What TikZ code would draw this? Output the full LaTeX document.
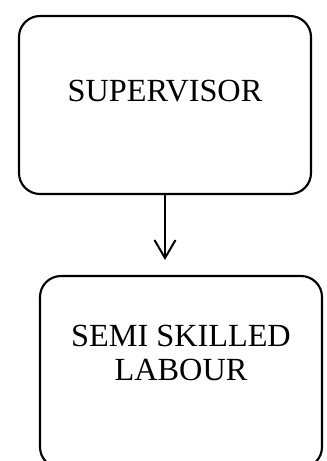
\documentclass[tikz,border=0pt]{standalone}
\usepackage{fontspec}
\setmainfont{Liberation Serif}
\usetikzlibrary{arrows.meta}

\begin{document}
\begin{tikzpicture}[x=0.75pt,y=0.75pt,yscale=-1,xscale=1,
    roundbox/.style={draw,line width=1.6pt,rounded corners=15.75pt,inner sep=0pt,outer sep=0pt},
    boxtext/.style={inner sep=0pt,font=\fontsize{24.2}{26}\selectfont,align=center}]
                  %set diagram left start at 0, and has height of 461
                  \clip (0,0) rectangle (326,461);
                  %Rounded Rect
                  \node [roundbox,minimum width=219pt,minimum height=133.5pt] (sup) at (165,105) {};
                  %Rounded Rect
                  \node [roundbox,minimum width=211.5pt,minimum height=144pt] (lab) at (181,372) {};
                  %Straight Lines
                  \draw [line width=1.5pt,-{Straight Barb[length=13.5pt,width=15.75pt]},shorten >=12pt] (sup.south) -- (lab.north -| sup.south);

                  % Text Node
                  \node [boxtext,anchor=base] (suptext) at (165,101.7) {SUPERVISOR};
                  % Text Node
                  \node [boxtext,anchor=base] (labtext) at (181,380.7) {SEMI SKILLED\\LABOUR};
\end{tikzpicture}
\end{document}
